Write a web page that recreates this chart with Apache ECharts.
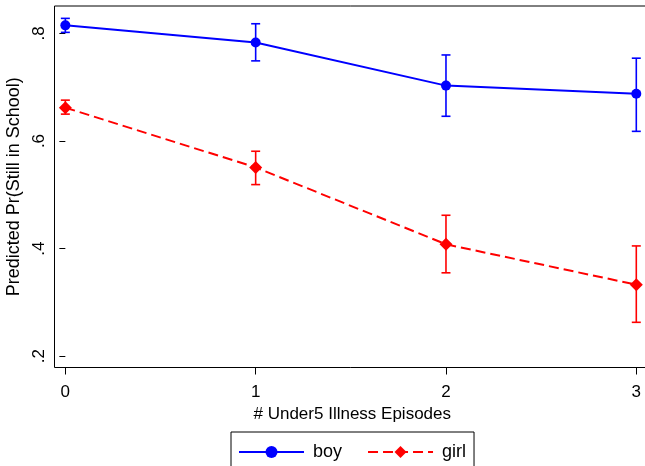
<!DOCTYPE html>
<html>
<head>
<meta charset="utf-8">
<script src="https://cdn.jsdelivr.net/npm/echarts@6/dist/echarts.min.js"></script>
<style>html,body{margin:0;padding:0;background:#fff;}#c{width:645px;height:466px;}</style>
</head>
<body>
<div id="c"></div>
<script>
var episodes = [0, 1, 2, 3];
var boy = [0.815, 0.783, 0.703, 0.688];
var boyLo = [0.802, 0.749, 0.646, 0.618];
var boyHi = [0.828, 0.818, 0.760, 0.754];
var girl = [0.662, 0.551, 0.408, 0.333];
var girlLo = [0.650, 0.519, 0.355, 0.263];
var girlHi = [0.676, 0.581, 0.462, 0.405];
var xTicks = [0, 1, 2, 3];
var yTicks = [0.2, 0.4, 0.6, 0.8];

var FONT = '"Liberation Sans", Arial, sans-serif';
var BLUE = '#0000ff', RED = '#ff0000';

function pairs(ys) { return episodes.map(function (x, i) { return [x, ys[i]]; }); }
function ranges(lo, hi) { return episodes.map(function (x, i) { return [x, lo[i], hi[i]]; }); }

function errRender(color) {
  return function (params, api) {
    var x = api.value(0);
    var p1 = api.coord([x, api.value(1)]);
    var p2 = api.coord([x, api.value(2)]);
    var hw = 4.5;
    var st = { stroke: color, lineWidth: 1.6 };
    return {
      type: 'group',
      children: [
        { type: 'line', shape: { x1: p1[0], y1: p1[1], x2: p2[0], y2: p2[1] }, style: st },
        { type: 'line', shape: { x1: p1[0] - hw, y1: p1[1], x2: p1[0] + hw, y2: p1[1] }, style: st },
        { type: 'line', shape: { x1: p2[0] - hw, y1: p2[1], x2: p2[0] + hw, y2: p2[1] }, style: st }
      ]
    };
  };
}

var chart = echarts.init(document.getElementById('c'), null, { renderer: 'canvas' });
chart.setOption({
  animation: false,
  backgroundColor: '#fff',
  textStyle: { fontFamily: FONT },
  grid: { left: 54.5, top: 6, right: -5, bottom: 98.5, outerBoundsMode: 'none', containLabel: false, show: true, borderColor: '#000', borderWidth: 1, backgroundColor: 'transparent' },
  xAxis: {
    type: 'value', min: -0.057, max: 3.072,
    splitLine: { show: false },
    axisLine: { show: false },
    axisTick: { show: true, customValues: xTicks, length: 7, lineStyle: { color: '#000', width: 1 } },
    axisLabel: { customValues: xTicks, color: '#000', fontSize: 17, fontFamily: FONT, margin: 16, hideOverlap: false },
    name: '# Under5 Illness Episodes', nameLocation: 'middle', nameGap: 31,
    nameTextStyle: { color: '#000', fontSize: 17, fontFamily: FONT }
  },
  yAxis: {
    type: 'value', min: 0.179, max: 0.851,
    splitLine: { show: false },
    axisLine: { show: false },
    axisTick: { show: true, customValues: yTicks, length: 6, lineStyle: { color: '#000', width: 1 } },
    axisLabel: {
      customValues: yTicks, rotate: 90, color: '#000', fontSize: 17, fontFamily: FONT, margin: 7,
      formatter: function (v) { return String(Math.round(v * 10) / 10).replace(/^0/, ''); }
    },
    name: 'Predicted Pr(Still in School)', nameLocation: 'middle', nameGap: 29,
    nameTextStyle: { color: '#000', fontSize: 18, fontFamily: FONT }
  },
  legend: {
    data: ['boy', 'girl'],
    left: 231, top: 432,
    orient: 'horizontal',
    borderColor: '#000', borderWidth: 1,
    padding: [11, 8, 30, 7],
    itemWidth: 65, itemHeight: 15, itemGap: 25,
    textStyle: { color: '#000', fontSize: 18, fontFamily: FONT, padding: [0, 0, 0, 4] }
  },
  series: [
    { type: 'custom', name: 'boyCI', data: ranges(boyLo, boyHi), renderItem: errRender(BLUE), z: 1, silent: true },
    { type: 'custom', name: 'girlCI', data: ranges(girlLo, girlHi), renderItem: errRender(RED), z: 1, silent: true },
    {
      type: 'line', name: 'boy', data: pairs(boy), z: 3,
      symbol: 'circle', symbolSize: 10, showAllSymbol: true,
      lineStyle: { color: BLUE, width: 2 }, itemStyle: { color: BLUE }
    },
    {
      type: 'line', name: 'girl', data: pairs(girl), z: 3,
      symbol: 'diamond', symbolSize: 13, showAllSymbol: true,
      lineStyle: { color: RED, width: 2, type: [10, 5] }, itemStyle: { color: RED }
    }
  ]
});
</script>
</body>
</html>
